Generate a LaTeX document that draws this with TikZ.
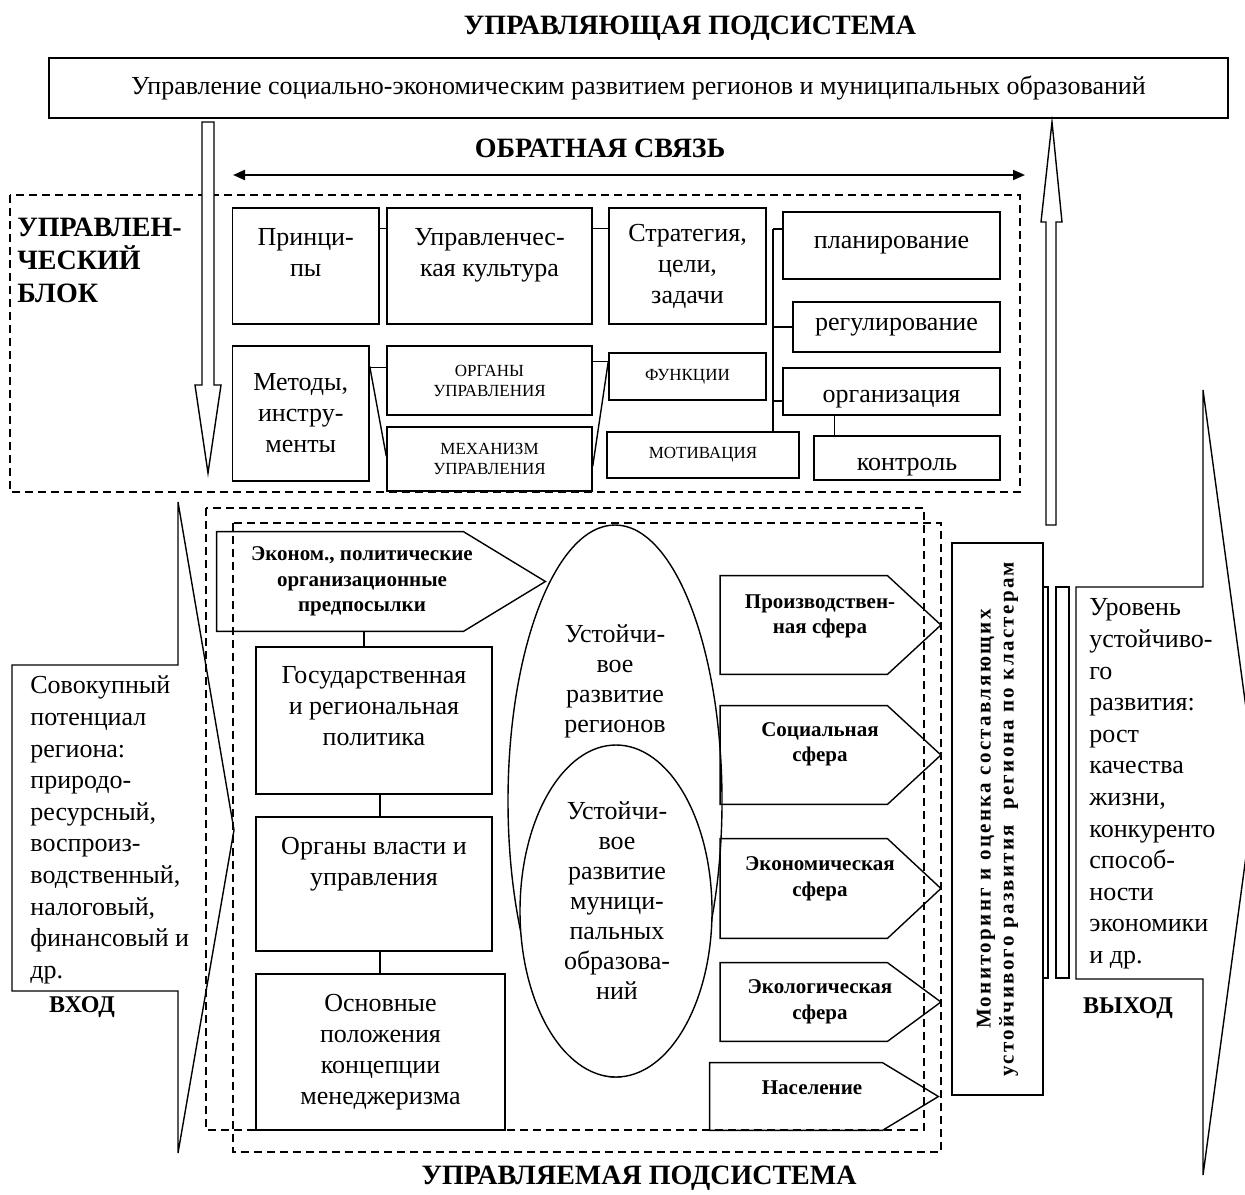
\documentclass[tikz,border=0pt]{standalone}
\usepackage{fontspec}
\setmainfont{Liberation Serif}
\usepackage{tikz}
\usetikzlibrary{shapes.geometric, arrows.meta, positioning, calc}
\tikzset{
  box/.style={rectangle, draw, line width=0.7pt, align=center, inner sep=1pt,
    font=\fontsize{13}{15.5}\selectfont},
  capbox/.style={box, font=\fontsize{8.5}{10}\selectfont},
  pent/.style={rectangle, align=center, inner sep=1pt,
    font=\bfseries\fontsize{10.5}{12.75}\selectfont},
  oval/.style={ellipse, draw, line width=0.7pt, inner sep=0pt},
  txt/.style={align=center, inner sep=0pt, font=\fontsize{13}{15}\selectfont},
  sidetext/.style={align=left, inner sep=0pt, font=\fontsize{13}{15.8}\selectfont},
  heading/.style={inner sep=0pt, font=\bfseries\fontsize{14}{16}\selectfont},
  hollow/.style={draw, line width=0.7pt, fill=white},
  dashframe/.style={dash pattern=on 4pt off 2.5pt, line width=0.6pt},
  line/.style={line width=0.7pt},
  fbarrow/.style={{Triangle[length=6pt,width=5pt]}-{Triangle[length=6pt,width=5pt]}, line width=1pt},
  lift/.style={text depth=#1},
  drop/.style={text height=#1}
}
\newcommand{\pentout}[3]{%
  \draw[line] (#1.north west) -- ([xshift=-#2]#1.north east) -- ([xshift=#3]#1.east)
    -- ([xshift=-#2]#1.south east) -- (#1.south west) -- cycle;}

\begin{document}
\begin{tikzpicture}[x=0.5pt, y=-0.5pt]
  \useasboundingbox (0,0) rectangle (1245,1194);

  \node[heading] (ctrl) at (690,28) {УПРАВЛЯЮЩАЯ ПОДСИСТЕМА};
  \node[box, minimum width=589.5pt, minimum height=30pt] (upr) at (638.5,88)
    {Управление социально-экономическим развитием регионов и муниципальных образований};
  \node[heading] (fb) at (600,148) {ОБРАТНАЯ СВЯЗЬ};
  \coordinate (fbL) at (233,175);
  \coordinate (fbR) at (1025,175);
  \draw[fbarrow] (fbL) -- (fbR);

  \draw[dashframe] (10,195) rectangle (1020,492);
  \draw[hollow] (202,122) -- (214,122) -- (214,385) -- (221,385) -- (208,473)
    -- (195,385) -- (202,385) -- cycle;
  \draw[hollow] (1046,525) -- (1046,222) -- (1041,222) -- (1052,122) -- (1062,222)
    -- (1056,222) -- (1056,525) -- cycle;

  \node[sidetext, font=\bfseries\fontsize{14}{16.5}\selectfont, anchor=west] (ublk) at (17,260)
    {УПРАВЛЕН-\\ЧЕСКИЙ\\БЛОК};

  \node[box, minimum width=73.25pt, minimum height=58pt, lift=13.5pt] (princ) at (305.75,266) {Принци-\\пы};
  \node[box, minimum width=102.5pt, minimum height=58pt, lift=13.5pt] (kult) at (489.5,266) {Управленчес-\\кая культура};
  \node[box, minimum width=78.5pt, minimum height=58pt] (strat) at (687.5,266) {Стратегия,\\цели,\\задачи};
  \node[box, minimum width=108.5pt, minimum height=33.5pt] (plan) at (891.5,245.5) {планирование};
  \node[box, minimum width=103.5pt, minimum height=25pt] (regul) at (896.5,327) {регулирование};
  \node[box, minimum width=108.5pt, minimum height=23.5pt, drop=14pt] (org) at (891.5,391.5) {организация};
  \node[box, minimum width=93pt, minimum height=22pt, drop=15pt] (kontr) at (907,458) {контроль};
  \node[box, minimum width=68.25pt, minimum height=67.5pt] (metod) at (300.75,413.5) {Методы,\\инстру-\\менты};
  \node[capbox, minimum width=102.5pt, minimum height=34.5pt] (organy) at (489.5,380.5) {ОРГАНЫ\\УПРАВЛЕНИЯ};
  \node[capbox, minimum width=102.5pt, minimum height=32pt] (mech) at (489.5,459) {МЕХАНИЗМ\\УПРАВЛЕНИЯ};
  \node[capbox, minimum width=78.5pt, minimum height=23.5pt] (func) at (687.5,376.5) {ФУНКЦИИ};
  \node[capbox, minimum width=96pt, minimum height=23pt] (motiv) at (703,455) {МОТИВАЦИЯ};

  \draw[line] ([yshift=-10.5pt]princ.north east) -- ([yshift=-10.5pt]kult.north west);
  \draw[line] ([yshift=-10.5pt]kult.north east) -- ([yshift=-10.5pt]strat.north west);
  \coordinate (br) at (773,229);
  \draw[line] (br) -- (br -| plan.west);
  \draw[line] (br) -- (br |- motiv.north);
  \draw[line] (br |- regul.west) -- (regul.west);
  \draw[line] (br |- 0,401) -- (org.west |- 0,401);
  \draw[line] (org.south -| 834.5,0) -- (kontr.north -| 834.5,0);
  \draw[line] ([yshift=-11pt]metod.north east) -- ([yshift=-11pt]organy.north west);
  \draw[line] ([yshift=-10.5pt]metod.north east) -- ([yshift=-15pt]mech.north west);
  \draw[line] ([yshift=-8pt]organy.north east) -- ([yshift=-4.5pt]func.north west);
  \draw[line] ([yshift=-4.5pt]func.north west) -- ([yshift=-20pt]mech.north east);

  \draw[dashframe] (206,508) rectangle (924,1130);
  \draw[dashframe] (233,523) rectangle (941,1152);

  \draw[line] (12,665) -- (178,665) -- (178,502) -- (234,830) -- (178,1153) -- (178,991)
    -- (12,991) -- cycle;
  \node[sidetext, anchor=west] (pot) at (30,830)
    {Совокупный\\потенциал\\региона:\\природо-\\ресурсный,\\воспроиз-\\водственный,\\налоговый,\\финансовый и\\др.};
  \node[heading, font=\bfseries\fontsize{12}{14}\selectfont] (vhod) at (82,1007) {ВХОД};

  \node[oval, minimum width=107pt, minimum height=276pt] (ustreg) at (615,801) {};
  \node[oval, fill=white, minimum width=96pt, minimum height=166pt] (ustmun) at (616,911) {};
  \node[txt] (ustreg-t) at (615,681) {Устойчи-\\вое\\развитие\\регионов};
  \node[txt] (ustmun-t) at (617,901) {Устойчи-\\вое\\развитие\\муници-\\пальных\\образова-\\ний};

  \node[pent, minimum width=145pt, minimum height=49.5pt] (ekon) at (362,581.5)
    {Эконом., политические\\организационные\\предпосылки};
  \pentout{ekon}{22pt}{19pt}
  \node[box, minimum width=118pt, minimum height=73.5pt, lift=15pt] (gos) at (374,720.5)
    {Государственная\\и региональная\\политика};
  \node[box, minimum width=118pt, minimum height=67pt, lift=23pt] (vlast) at (374,884)
    {Органы власти и\\управления};
  \node[box, minimum width=124.5pt, minimum height=78pt] (osn) at (380.5,1052)
    {Основные\\положения\\концепции\\менеджеризма};
  \draw[line] (ekon.south -| 364,0) -- (gos.north -| 364,0);
  \draw[line] (gos.south -| 380,0) -- (vlast.north -| 380,0);
  \draw[line] (vlast.south -| 380,0) -- (osn.north -| 380,0);

  \node[pent, minimum width=99.5pt, minimum height=49pt, lift=11pt] (proizv) at (820,625) {Производствен-\\ная сфера};
  \pentout{proizv}{16.25pt}{10.5pt}
  \node[pent, minimum width=99.5pt, minimum height=49pt, lift=13pt] (soc) at (820,755) {Социальная\\сфера};
  \pentout{soc}{16.25pt}{10.5pt}
  \node[pent, minimum width=99.5pt, minimum height=49.5pt, lift=12pt] (ekn) at (820,888.5) {Экономическая\\сфера};
  \pentout{ekn}{16.25pt}{10.5pt}
  \node[pent, minimum width=99.5pt, minimum height=39pt] (ekol) at (820,1002) {Экологическая\\сфера};
  \pentout{ekol}{16.25pt}{10.5pt}
  \node[pent, minimum width=102pt, minimum height=33.5pt, lift=9pt] (nasel) at (812,1096.5) {Население};
  \pentout{nasel}{16pt}{12pt}

  \node[box, rotate=90, minimum width=276pt, minimum height=45.5pt,
    font=\bfseries\fontsize{10.5}{11.5}\selectfont\addfontfeature{LetterSpace=11}] (monit) at (997.5,819)
    {Мониторинг и оценка составляющих\\устойчивого развития\ \ региона по кластерам};
  \draw[line] (1043,587) rectangle (1048,978);
  \draw[line] (1056,587) rectangle (1069,978);
  \draw[line] (1076,587) -- (1203,587) -- (1203,390) -- (1256,782) -- (1203,1175) -- (1203,979)
    -- (1076,979) -- cycle;
  \node[sidetext, anchor=west] (uroven) at (1089,784)
    {Уровень\\устойчиво-\\го\\развития:\\рост\\качества\\жизни,\\конкуренто\\способ-\\ности\\экономики\\и др.};
  \node[heading, font=\bfseries\fontsize{12}{14}\selectfont] (vyhod) at (1128,1008) {ВЫХОД};

  \node[heading] (upravl) at (639,1178) {УПРАВЛЯЕМАЯ ПОДСИСТЕМА};
\end{tikzpicture}
\end{document}
